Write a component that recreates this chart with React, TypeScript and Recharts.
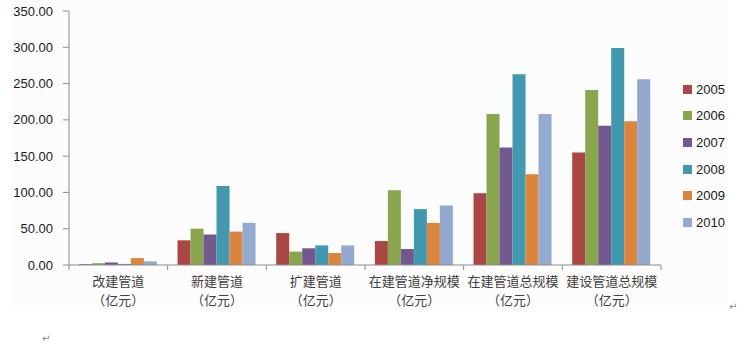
import { Bar, BarChart, XAxis, YAxis } from "recharts"

const categories = ["改建管道", "新建管道", "扩建管道", "在建管道净规模", "在建管道总规模", "建设管道总规模"]
const unitLabel = "（亿元）"
const years = ["2005", "2006", "2007", "2008", "2009", "2010"]
const colors = ["#AA4643", "#89A54E", "#71588F", "#4198AF", "#DB843D", "#93A9CF"]

// 每个年份一组数值，按 categories 顺序
const v2005 = [1, 34, 44, 33, 99, 155]
const v2006 = [2.5, 50, 18.5, 103, 208, 241]
const v2007 = [3.5, 42, 23, 22, 162, 192]
const v2008 = [1.5, 109, 27, 77, 263, 299]
const v2009 = [9.5, 46, 16.5, 58, 125, 198]
const v2010 = [5, 58, 27, 82, 208, 256]
const series = [v2005, v2006, v2007, v2008, v2009, v2010]

const yTicks = [0, 50, 100, 150, 200, 250, 300, 350]

const data = categories.map((name, i) => {
  const row: Record<string, string | number> = { name }
  years.forEach((y, j) => {
    row[y] = series[j][i]
  })
  return row
})

const CategoryTick = ({ x, y, payload, index }: any) => {
  const half = payload.offset || 0
  const last = index === categories.length - 1
  return (
    <g>
      <line x1={x - half} x2={x - half} y1={y} y2={y + 5} stroke="#8c8c8c" />
      {last && <line x1={x + half} x2={x + half} y1={y} y2={y + 5} stroke="#8c8c8c" />}
      <text
        x={x}
        y={y + 21}
        textAnchor="middle"
        fontSize={13}
        fill="#404040"
        fontFamily="'Noto Sans CJK SC', sans-serif"
      >
        {payload.value}
      </text>
      <text
        x={x}
        y={y + 40}
        textAnchor="middle"
        fontSize={13}
        fill="#404040"
        fontFamily="'Noto Sans CJK SC', sans-serif"
      >
        {unitLabel}
      </text>
    </g>
  )
}

export default function App() {
  return (
    <div
      style={{
        position: "absolute",
        left: 0,
        top: 0,
        width: 748,
        height: 344,
        background: "#fff",
        fontFamily: "'Liberation Sans', sans-serif",
      }}
    >
      <div style={{ position: "absolute", left: 10, top: 0, width: 718, height: 310, background: "#fcfcfc" }} />
      <div style={{ position: "absolute", left: 0, top: 0 }}>
        <BarChart
          width={748}
          height={344}
          data={data}
          margin={{ top: 11, right: 87, bottom: 39, left: 0 }}
          barCategoryGap="10%"
          barGap={0}
        >
          <XAxis
            dataKey="name"
            stroke="#8c8c8c"
            tickLine={false}
            tickSize={0}
            tickMargin={0}
            height={40}
            interval={0}
            tick={<CategoryTick />}
          />
          <YAxis
            width={69}
            domain={[0, 350]}
            ticks={yTicks}
            stroke="#8c8c8c"
            tickSize={6}
            tickMargin={10}
            tick={{ fill: "#1a1a1a", fontSize: 13, fontFamily: "'Liberation Sans', sans-serif" }}
            tickFormatter={(v: number) => v.toFixed(2)}
          />
          {years.map((y, j) => (
            <Bar key={y} dataKey={y} fill={colors[j]} isAnimationActive={false} />
          ))}
        </BarChart>
      </div>
      <div style={{ position: "absolute", left: 683, top: 76 }}>
        {years.map((y, j) => (
          <div key={y} style={{ display: "flex", alignItems: "center", height: 26.6 }}>
            <div style={{ width: 9, height: 9, background: colors[j], marginRight: 4 }} />
            <span style={{ fontSize: 13, color: "#1a1a1a" }}>{y}</span>
          </div>
        ))}
      </div>
      <span style={{ position: "absolute", left: 729, top: 301, fontSize: 10, color: "#888", fontFamily: "'DejaVu Sans'" }}>↵</span>
      <span style={{ position: "absolute", left: 42, top: 333, fontSize: 10, color: "#888", fontFamily: "'DejaVu Sans'" }}>↵</span>
    </div>
  )
}
